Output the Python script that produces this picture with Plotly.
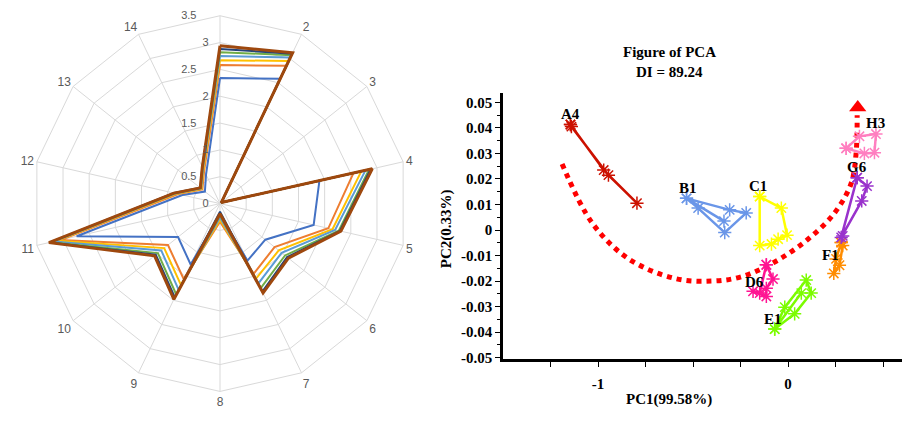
import plotly.graph_objects as go

# ---------------- Radar data ----------------
categories = [str(i) for i in range(1, 15)]
cat_labels = [""] + [str(i) for i in range(2, 15)]
radar_colors = ["#4472C4", "#ED7D31", "#FFC000", "#5B9BD5", "#70AD47", "#264478", "#9E480E"]
radar_widths = [2, 2, 2, 2, 2, 2, 3]
s1 = [2.34, 2.58, 0.03, 1.90, 1.79, 1.08, 1.18, 0.20, 1.26, 1.00, 2.74, 0.72, 0.36, 0.60]
s2 = [2.58, 2.85, 0.03, 2.55, 2.07, 1.30, 1.45, 0.34, 1.56, 1.24, 3.05, 0.80, 0.42, 0.68]
s3 = [2.67, 2.95, 0.03, 2.70, 2.15, 1.40, 1.55, 0.30, 1.68, 1.33, 3.12, 0.83, 0.44, 0.71]
s4 = [2.75, 3.02, 0.03, 2.78, 2.20, 1.47, 1.65, 0.26, 1.78, 1.40, 3.18, 0.85, 0.45, 0.73]
s5 = [2.82, 3.07, 0.03, 2.85, 2.27, 1.55, 1.75, 0.22, 1.88, 1.48, 3.23, 0.87, 0.46, 0.75]
s6 = [2.88, 3.10, 0.03, 2.88, 2.29, 1.60, 1.82, 0.15, 1.94, 1.53, 3.25, 0.88, 0.47, 0.76]
s7 = [2.94, 3.12, 0.03, 2.91, 2.31, 1.63, 1.85, 0.19, 1.98, 1.56, 3.27, 0.88, 0.47, 0.76]
radar_series = [s1, s2, s3, s4, s5, s6, s7]
radial_ticks = [0, 0.5, 1, 1.5, 2, 2.5, 3, 3.5]
radial_labels = ["0", "0.5", "1", "1.5", "2", "2.5", "3", "3.5"]

# ---------------- PCA data ----------------
groups = ["A4", "B1", "C1", "D6", "E1", "F1", "G6", "H3"]
group_colors = ["#CC1100", "#6A96E8", "#FFFF00", "#FF1493", "#7CFC00", "#FF8C00", "#9932CC", "#FF7FC0"]
pc1 = {
    "A4": [-1.145, -0.97, -0.795, -0.945, -1.140, -1.145],
    "B1": [-0.534, -0.307, -0.220, -0.333, -0.473, -0.534, -0.337],
    "C1": [-0.149, -0.035, -0.005, -0.052, -0.087, -0.149, -0.149],
    "D6": [-0.114, -0.079, -0.114, -0.114, -0.184, -0.149, -0.114],
    "E1": [-0.070, -0.017, 0.096, 0.122, 0.035, -0.070, 0.070],
    "F1": [0.280, 0.288, 0.271, 0.241, 0.253, 0.280],
    "G6": [0.364, 0.416, 0.388, 0.288, 0.280, 0.364],
    "H3": [0.306, 0.376, 0.463, 0.455, 0.402, 0.306],
}
pc2 = {
    "A4": [0.0413, 0.0235, 0.0105, 0.0215, 0.0405, 0.0413],
    "B1": [0.0124, 0.0079, 0.0067, -0.0010, 0.0086, 0.0124, 0.0035],
    "C1": [0.0131, 0.0086, -0.0020, -0.0036, -0.0055, -0.0061, 0.0131],
    "D6": [-0.0136, -0.0192, -0.0228, -0.0260, -0.0240, -0.0247, -0.0136],
    "E1": [-0.0388, -0.0302, -0.0196, -0.0247, -0.0328, -0.0388, -0.0247],
    "F1": [-0.0049, -0.0061, -0.0138, -0.0170, -0.0113, -0.0049],
    "G6": [0.0205, 0.0172, 0.0114, -0.0023, -0.0029, 0.0205],
    "H3": [0.0320, 0.0367, 0.0376, 0.0303, 0.0300, 0.0320],
}
label_x = [-1.145, -0.528, -0.157, -0.175, -0.079, 0.224, 0.364, 0.463]
label_y = [0.0453, 0.0165, 0.0172, -0.0202, -0.0350, -0.0097, 0.0246, 0.0421]
arc_x = [-1.189, -1.031, -0.839, -0.594, -0.402, -0.245, -0.070, 0.105, 0.245, 0.332, 0.358, 0.364]
arc_y = [0.0259, 0.0028, -0.0113, -0.0190, -0.0200, -0.0183, -0.0125, -0.0036, 0.0067, 0.0182, 0.0297, 0.0450]
arrow_x = [0.367]
arrow_y = [0.0480]
ytick_vals = [0.05, 0.04, 0.03, 0.02, 0.01, 0, -0.01, -0.02, -0.03, -0.04, -0.05]
ytick_text = ["0.05", "0.04", "0.03", "0.02", "0.01", "0", "-0.01", "-0.02", "-0.03", "-0.04", "-0.05"]
xtick_vals = [-1.25, -1, -0.75, -0.5, -0.25, 0, 0.25, 0.5]
xtick_text = ["", "-1", "", "", "", "0", "", ""]

fig = go.Figure()

for vals, col, w in zip(radar_series, radar_colors, radar_widths):
    fig.add_trace(go.Scatterpolar(
        r=vals + [vals[0]], theta=categories + [categories[0]],
        mode="lines", line=dict(color=col, width=w), showlegend=False,
        subplot="polar"))

serif = "Liberation Serif"

fig.add_trace(go.Scatter(
    x=arc_x, y=arc_y, mode="lines", line=dict(color="#FF0000", width=5, dash="dot", shape="spline"),
    showlegend=False, xaxis="x", yaxis="y"))
fig.add_trace(go.Scatter(
    x=arrow_x, y=arrow_y, mode="markers", marker=dict(symbol="triangle-up", size=15, color="#FF0000"),
    showlegend=False))

for g, col in zip(groups, group_colors):
    fig.add_trace(go.Scatter(
        x=pc1[g], y=pc2[g], mode="lines+markers",
        line=dict(color=col, width=2.5),
        marker=dict(symbol="asterisk-open", size=11, line=dict(color=col, width=1.5)),
        showlegend=False))

bold15 = dict(family=serif, size=15, color="black", weight="bold")
annotations = []
for g, lx, ly in zip(groups, label_x, label_y):
    annotations.append(dict(x=lx, y=ly, xref="x", yref="y", text=g, showarrow=False,
                            xanchor="center", yanchor="middle", font=bold15))

paper_texts = [
    ("Figure of PCA", 669, 53, 0),
    ("DI = 89.24", 669, 73, 0),
    ("PC1(99.58%)", 669, 406, 0),
    ("PC2(0.33%)", 446, 233, -90),
]
for txt, px, py, ang in paper_texts:
    annotations.append(dict(x=px / 910, y=(424 - py) / 424, xref="paper", yref="paper", text=txt,
                            showarrow=False, xanchor="center", yanchor="middle", textangle=ang,
                            font=bold15))

# pad radial labels with trailing non-breaking spaces so they sit left of the axis
radial_text = [t + "\u00a0" * (2 * len(t) + 1) for t in radial_labels]

fig.update_layout(
    width=910, height=424, margin=dict(l=0, r=0, t=0, b=0),
    paper_bgcolor="white", plot_bgcolor="white",
    polar=dict(
        domain=dict(x=[29 / 910, 411 / 910], y=[26 / 424, 408 / 424]),
        bgcolor="white", gridshape="linear",
        radialaxis=dict(range=[0, 3.5], tickvals=radial_ticks, ticktext=radial_text,
                        angle=90, tickangle=90, side="counterclockwise", showline=False, ticks="",
                        gridcolor="#D9D9D9",
                        tickfont=dict(family="Liberation Sans", size=11, color="#595959")),
        angularaxis=dict(direction="clockwise", rotation=90, tickvals=categories, ticktext=cat_labels,
                         gridcolor="#D9D9D9", linecolor="#D9D9D9", ticks="",
                         tickfont=dict(family="Liberation Sans", size=12, color="#595959")),
    ),
    xaxis=dict(domain=[503 / 910, 902 / 910], range=[-1.5, 0.6], showgrid=False, zeroline=False,
               showline=True, linecolor="black", linewidth=2.5, ticks="outside", ticklen=5,
               tickcolor="black", tickvals=xtick_vals, ticktext=xtick_text, ticklabelstandoff=4,
               tickfont=bold15),
    yaxis=dict(domain=[59 / 424, 329 / 424], range=[-0.0505, 0.0535], showgrid=False, zeroline=False,
               showline=True, linecolor="black", linewidth=2.5, ticks="outside", ticklen=5,
               tickcolor="black", tickvals=ytick_vals, ticktext=ytick_text,
               minor=dict(tickvals=[v + 0.005 for v in ytick_vals[1:]], ticks="outside", ticklen=3, tickcolor="black"),
               tickfont=bold15),
    annotations=annotations,
)

fig.write_html("out.html")
